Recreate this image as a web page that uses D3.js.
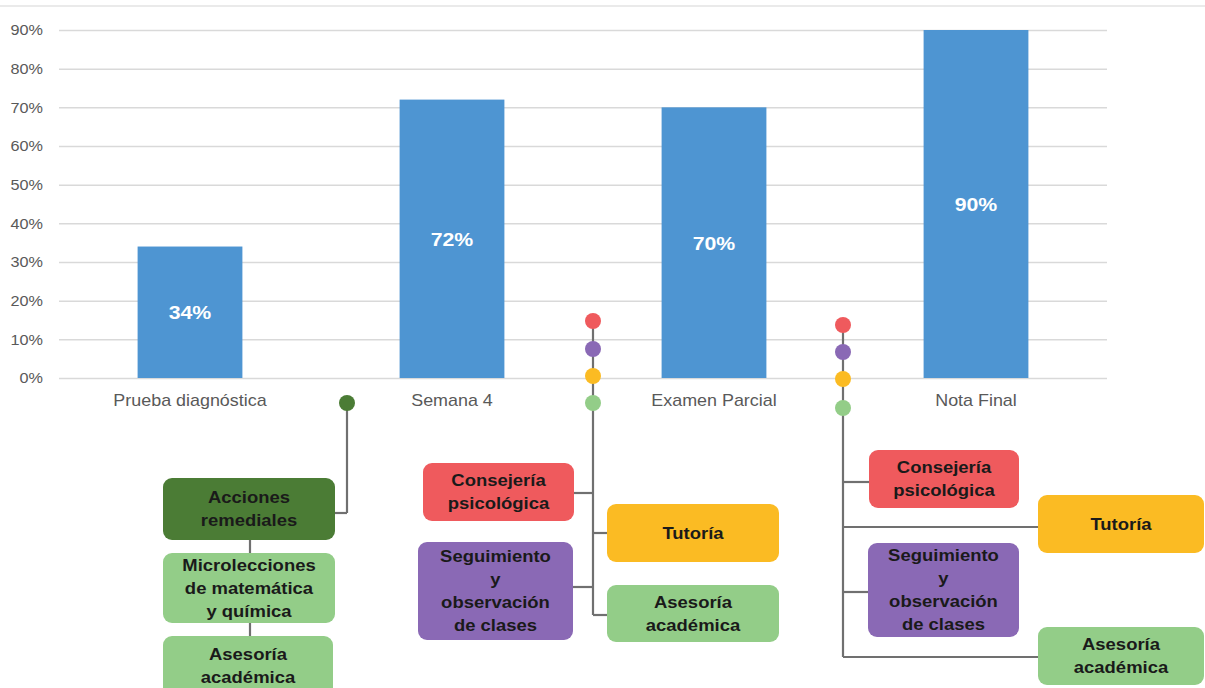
<!DOCTYPE html>
<html>
<head>
<meta charset="utf-8">
<script src="https://cdn.jsdelivr.net/npm/d3@7"></script>
<style>
  html, body { margin: 0; padding: 0; background: #ffffff; }
  svg { display: block; font-family: "Liberation Sans", Arial, sans-serif; }
</style>
</head>
<body>
<svg id="chart" width="1205" height="688"></svg>
<script>
// ---------- DATA ----------
const categories = ["Prueba diagnóstica", "Semana 4", "Examen Parcial", "Nota Final"];
const values = [34, 72, 70, 90];
const tickValues = [0, 10, 20, 30, 40, 50, 60, 70, 80, 90];
const tickLabels = ["0%", "10%", "20%", "30%", "40%", "50%", "60%", "70%", "80%", "90%"];

const remedialLabels = [["Acciones", "remediales"], ["Microlecciones", "de matemática", "y química"], ["Asesoría", "académica"]];
const supportLabels = [["Consejería", "psicológica"], ["Tutoría"], ["Seguimiento", "y", "observación", "de clases"], ["Asesoría", "académica"]];

// ---------- STYLE / LAYOUT ----------
const W = 1205, H = 688;
const plot = { left: 59, right: 1107, top: 30, bottom: 378 };
const barColor = "#4e95d2";
const gridColor = "#d9d9d9";
const lineColor = "#707070";
const SX = 1.12; // horizontal stretch of the source image text

const col = {
  dark: "#4b7c35", light: "#93cd88", red: "#ef5a5d", yellow: "#fbbb23", purple: "#8a69b5"
};
const supportColors = [col.red, col.yellow, col.purple, col.light];
const dotColors = [col.red, col.purple, col.yellow, col.light];

const svg = d3.select("#chart");

// top border line
svg.append("line").attr("x1", 0).attr("x2", W).attr("y1", 6).attr("y2", 6)
  .attr("stroke", "#e3e3e3").attr("stroke-width", 1.5);

const x = d3.scaleBand().domain(categories).range([plot.left, plot.right])
  .paddingInner(0.6).paddingOuter(0.3);
const y = d3.scaleLinear().domain([0, 90]).range([plot.bottom, plot.top]);

// gridlines + y tick labels
const yAxis = d3.axisLeft(y).tickValues(tickValues)
  .tickFormat((d, i) => tickLabels[i]).tickSize(-(plot.right - plot.left)).tickPadding(16);
const gy = svg.append("g").attr("transform", `translate(${plot.left},0)`).call(yAxis);
gy.select(".domain").remove();
gy.selectAll(".tick line").attr("stroke", gridColor).attr("stroke-width", 1.5);
gy.selectAll(".tick text")
  .attr("fill", "#595959").attr("font-size", 14.5)
  .attr("dy", "0.34em")
  .each(function () {
    const t = d3.select(this);
    const xx = +t.attr("x");
    t.attr("x", 0).attr("transform", `translate(${xx},0) scale(${SX},1)`);
  });

// bars
svg.append("g").selectAll("rect").data(values).join("rect")
  .attr("x", (d, i) => x(categories[i]))
  .attr("y", d => y(d))
  .attr("width", x.bandwidth())
  .attr("height", d => y(0) - y(d))
  .attr("fill", barColor);

// bar value labels
svg.append("g").selectAll("text").data(values).join("text")
  .attr("transform", (d, i) => `translate(${x(categories[i]) + x.bandwidth() / 2},${(y(d) + y(0)) / 2}) scale(${SX},1)`)
  .attr("text-anchor", "middle").attr("dy", "0.36em")
  .attr("fill", "#ffffff").attr("font-weight", "bold").attr("font-size", 19)
  .text(d => d + "%");

// x axis labels
const xAxis = d3.axisBottom(x).tickSize(0).tickPadding(0);
const gx = svg.append("g").attr("transform", `translate(0,${plot.bottom})`).call(xAxis);
gx.select(".domain").remove();
gx.selectAll(".tick text")
  .attr("fill", "#595959").attr("font-size", 16).attr("dy", 0)
  .attr("y", 0)
  .attr("transform", `translate(0,28) scale(${SX},1)`);

// ---------- ANNOTATIONS ----------
const ann = svg.append("g");

function box(b, color, lines) {
  ann.append("rect").attr("x", b.x).attr("y", b.y).attr("width", b.w).attr("height", b.h)
    .attr("rx", 9).attr("fill", color);
  const lh = 23;
  const cx = b.x + b.w / 2, cy = b.y + b.h / 2;
  lines.forEach((ln, i) => {
    const ty = cy + (i - (lines.length - 1) / 2) * lh;
    ann.append("text")
      .attr("transform", `translate(${cx},${ty}) scale(${SX},1)`)
      .attr("text-anchor", "middle").attr("dy", "0.36em")
      .attr("font-size", 16.5).attr("font-weight", "bold").attr("fill", "#1a1a1a")
      .text(ln);
  });
}
function seg(x1, y1, x2, y2) {
  ann.append("line").attr("x1", x1).attr("y1", y1).attr("x2", x2).attr("y2", y2)
    .attr("stroke", lineColor).attr("stroke-width", 2.2);
}
function dot(cx, cy, color) {
  ann.append("circle").attr("cx", cx).attr("cy", cy).attr("r", 8).attr("fill", color);
}

// Remedial group (left)
const rem = { dx: 347, dy: 403, elbowY: 513,
  boxes: [{ x: 163, y: 478, w: 172, h: 62 }, { x: 163, y: 553, w: 172, h: 70 }, { x: 163, y: 636, w: 170, h: 60 }] };
seg(rem.dx, rem.dy, rem.dx, rem.elbowY);
seg(rem.dx, rem.elbowY, rem.boxes[0].x + rem.boxes[0].w, rem.elbowY);
seg(250, 540, 250, 553);
seg(250, 623, 250, 636);
dot(rem.dx, rem.dy, col.dark);
box(rem.boxes[0], col.dark, remedialLabels[0]);
box(rem.boxes[1], col.light, remedialLabels[1]);
box(rem.boxes[2], col.light, remedialLabels[2]);

// Support groups
const groups = [
  { vx: 593, dots: [321, 349, 376, 403],
    boxes: [{ x: 423, y: 463, w: 151, h: 58, by: 493 }, { x: 607, y: 504, w: 172, h: 58, by: 533 },
            { x: 418, y: 542, w: 155, h: 98, by: 587 }, { x: 607, y: 585, w: 172, h: 57, by: 615 }] },
  { vx: 843, dots: [325, 352, 379, 408],
    boxes: [{ x: 869, y: 450, w: 150, h: 58, by: 482 }, { x: 1038, y: 495, w: 166, h: 58, by: 527 },
            { x: 868, y: 543, w: 151, h: 94, by: 592 }, { x: 1038, y: 627, w: 166, h: 58, by: 657 }] }
];
groups.forEach(g => {
  const bottom = d3.max(g.boxes, b => b.by);
  seg(g.vx, g.dots[0], g.vx, bottom);
  g.boxes.forEach(b => {
    const edge = b.x > g.vx ? b.x : b.x + b.w;
    seg(g.vx, b.by, edge, b.by);
  });
  g.dots.forEach((dy, i) => dot(g.vx, dy, dotColors[i]));
  g.boxes.forEach((b, i) => box(b, supportColors[i], supportLabels[i]));
});
</script>
</body>
</html>
